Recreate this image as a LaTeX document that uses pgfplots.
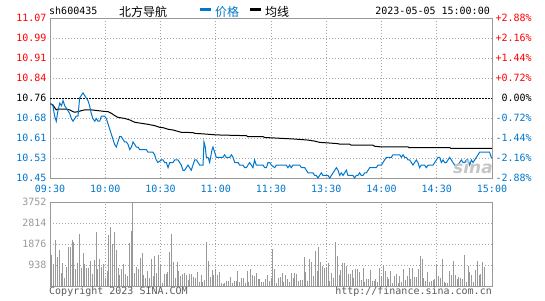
\documentclass[border=0pt]{standalone}
\usepackage{pgfplots}
\pgfplotsset{compat=1.18}
\usepackage{fontspec}
\setmainfont{DejaVu Sans Mono}
\setsansfont{DejaVu Sans}
\newfontfamily\cjk{Noto Sans CJK SC}
\definecolor{sblue}{RGB}{0,119,204}
\definecolor{sred}{RGB}{255,0,0}
\definecolor{sgray}{RGB}{153,153,153}
\definecolor{sgrid}{RGB}{165,165,165}
\definecolor{stext}{RGB}{90,90,90}
\pgfplotsset{
  chart/.style={scale only axis, width=442pt, anchor=south west,
    xmin=0, xmax=240, xtick={0,30,...,240},
    grid=major, major grid style={sgrid, line width=0.8pt, dash pattern=on 1pt off 2pt},
    axis line style={sgray, line width=1pt},
    tick style={draw=none},
    tick label style={font=\fontsize{10}{12}\selectfont}}
}
\begin{document}
\begin{tikzpicture}[font=\fontsize{10}{12}\selectfont]
% overall frame of the picture (545 x 300), origin at the price panel's lower left corner
\path (-50pt,-122pt) rectangle (495pt,178pt);

% ---------- price panel ----------
\begin{axis}[chart, at={(0pt,0pt)}, height=160pt,
  ymin=10.45, ymax=11.07,
  ytick={10.45,10.5275,10.605,10.6825,10.76,10.8375,10.915,10.9925,11.07},
  yticklabels={\textcolor{sblue}{10.45},\textcolor{sblue}{10.53},\textcolor{sblue}{10.61},\textcolor{sblue}{10.68},\textcolor{black}{10.76},\textcolor{sred}{10.84},\textcolor{sred}{10.91},\textcolor{sred}{10.99},\textcolor{sred}{11.07}},
  xticklabels={09:30,10:00,10:30,11:00,11:30,13:30,14:00,14:30,15:00},
  xticklabel style={text=sblue, yshift=-3.5pt}]
\addplot[black, line width=1pt, dash pattern=on 1.5pt off 1.5pt] coordinates {(0,10.76) (240,10.76)};
\addplot[black, line width=1pt] coordinates {
(0,10.739) (1.6,10.733) (2.5,10.723) (3.4,10.714) (4.3,10.717) (6.2,10.717) (8.9,10.717) (10.7,10.714) (12.5,10.707) (13.4,10.705) (15.2,10.707) (17.0,10.711) (18.8,10.714) (22.4,10.714) (26.1,10.711) (29.7,10.708) (31.5,10.707) (33.3,10.701) (35.1,10.692) (36.9,10.685) (40.5,10.681) (43.3,10.675) (46.0,10.666) (49.6,10.662) (53.2,10.658) (56.8,10.653) (59.7,10.646) (61.4,10.645) (64.1,10.639) (66.8,10.636) (71.3,10.627) (77.6,10.626) (78.6,10.623) (83.1,10.621) (90.3,10.617) (106.6,10.614) (107.5,10.610) (115.7,10.610) (116.6,10.607) (124.7,10.604) (132.8,10.601) (140.1,10.597) (143.7,10.593) (146.4,10.588) (150.9,10.586) (156.4,10.583) (157.3,10.581) (162.7,10.581) (163.6,10.577) (175.4,10.577) (176.3,10.573) (179.2,10.571) (194.4,10.571) (194.8,10.568) (217.0,10.568) (217.6,10.565) (240,10.565)};
\addplot[sblue, line width=1pt] coordinates {
(0,10.74) (1.6,10.73) (2.5,10.69) (3.4,10.67) (4.3,10.71) (5.3,10.74) (6.2,10.73) (7.1,10.75) (8.0,10.73) (8.9,10.72) (9.8,10.71) (10.7,10.70) (11.6,10.68) (12.5,10.67) (13.4,10.68) (14.3,10.69) (15.2,10.69) (16.1,10.76) (17.0,10.77) (17.9,10.78) (18.8,10.77) (19.7,10.76) (20.6,10.75) (21.5,10.73) (22.4,10.70) (23.3,10.68) (24.3,10.67) (25.2,10.68) (26.1,10.67) (27.0,10.67) (27.9,10.69) (28.8,10.69) (29.7,10.69) (30.6,10.68) (31.5,10.66) (32.4,10.64) (33.3,10.62) (34.2,10.60) (35.1,10.58) (36.0,10.57) (36.9,10.59) (37.8,10.61) (38.7,10.61) (39.6,10.60) (40.5,10.59) (41.4,10.59) (42.4,10.58) (43.3,10.56) (44.2,10.57) (45.1,10.59) (46.0,10.58) (46.9,10.57) (47.8,10.57) (48.7,10.56) (49.6,10.56) (50.5,10.56) (51.4,10.56) (52.3,10.56) (53.2,10.55) (54.1,10.55) (55.0,10.55) (55.9,10.55) (56.8,10.54) (57.7,10.52) (58.6,10.51)
(60.5,10.52) (61.4,10.52) (62.3,10.51) (63.2,10.51) (64.1,10.49) (65.0,10.51) (65.9,10.51) (66.8,10.51) (67.7,10.52) (68.6,10.52) (69.5,10.52) (70.4,10.51) (71.3,10.50) (72.2,10.48) (73.1,10.48) (74.0,10.49) (74.9,10.50) (75.8,10.49) (76.7,10.48) (77.6,10.50) (78.6,10.52) (79.5,10.52) (80.4,10.51) (81.3,10.50) (82.2,10.50) (83.1,10.50) (83.6,10.59) (84.3,10.57) (84.9,10.53) (85.8,10.53) (86.7,10.51) (87.2,10.53) (88.0,10.56) (88.5,10.57) (89.4,10.55) (90.3,10.53) (91.2,10.53) (92.1,10.53) (93.0,10.53) (93.9,10.53) (94.8,10.54) (95.7,10.53) (96.6,10.53) (97.6,10.53) (98.5,10.54) (99.4,10.53) (100.3,10.51) (101.2,10.51) (102.1,10.51) (103.0,10.50) (103.9,10.50) (104.8,10.50) (105.7,10.49) (106.6,10.49) (107.5,10.50) (108.4,10.51) (109.3,10.50) (110.2,10.49) (111.1,10.52) (112.0,10.50) (112.9,10.50) (113.8,10.50) (114.7,10.50) (115.7,10.50) (116.6,10.49) (117.5,10.49) (118.4,10.51) (119.3,10.51)
(120.2,10.50) (122.0,10.49) (122.9,10.50) (123.8,10.50) (125.6,10.50) (127.4,10.50) (128.3,10.50) (129.2,10.49) (130.1,10.50) (131.0,10.49) (131.9,10.50) (132.8,10.50) (134.7,10.50) (135.6,10.50) (136.5,10.49) (137.4,10.49) (138.3,10.49) (139.2,10.48) (140.1,10.47) (142.8,10.47) (143.7,10.46) (144.6,10.46) (145.5,10.45) (146.4,10.46) (147.3,10.47) (148.2,10.46) (149.1,10.46) (150.9,10.46) (151.9,10.45) (152.8,10.46) (153.7,10.47) (154.6,10.48) (155.5,10.49) (156.4,10.48) (157.3,10.46) (158.2,10.47) (159.1,10.46) (160.0,10.47) (160.9,10.48) (161.8,10.46) (164.5,10.46) (165.4,10.45) (166.3,10.46) (167.2,10.46) (168.1,10.47) (169.0,10.46) (169.9,10.46) (170.9,10.47) (171.8,10.47) (172.7,10.48) (173.6,10.49) (177.2,10.49) (178.1,10.50)
(179.9,10.50) (180.8,10.51) (181.7,10.52) (182.6,10.53) (185.3,10.53) (186.2,10.54) (189.9,10.54) (190.8,10.53) (191.7,10.54) (192.6,10.53) (193.5,10.53) (194.4,10.52) (195.3,10.52) (196.2,10.51) (197.1,10.50) (198.0,10.51) (198.9,10.52) (199.8,10.51) (200.7,10.49) (201.6,10.50) (203.4,10.50) (204.3,10.49) (205.3,10.50) (208.0,10.50) (208.9,10.51) (209.8,10.52) (210.7,10.53) (211.6,10.53) (212.5,10.51) (213.4,10.52) (214.3,10.51) (215.2,10.51) (216.1,10.52) (217.0,10.53) (217.9,10.52) (218.8,10.51) (219.7,10.50) (221.5,10.50) (222.4,10.51) (223.4,10.52) (224.3,10.51) (225.2,10.51) (226.1,10.52) (227.0,10.52) (227.9,10.50) (228.8,10.52) (229.7,10.51) (230.6,10.52) (231.5,10.53) (232.4,10.54) (233.3,10.55) (238.7,10.55) (239.6,10.53) (240,10.53)};
\end{axis}

% ---------- percent labels on the right ----------
\begin{axis}[scale only axis, width=442pt, height=160pt, at={(0pt,0pt)}, anchor=south west,
  xmin=0, xmax=240, ymin=-2.88, ymax=2.88,
  axis x line=none, axis y line*=right, axis line style={draw=none},
  tick style={draw=none},
  ytick={-2.88,-2.16,-1.44,-0.72,0,0.72,1.44,2.16,2.88},
  yticklabels={\textcolor{sblue}{-2.88\%},\textcolor{sblue}{-2.16\%},\textcolor{sblue}{-1.44\%},\textcolor{sblue}{-0.72\%},\textcolor{black}{\phantom{+}0.00\%},\textcolor{sred}{+0.72\%},\textcolor{sred}{+1.44\%},\textcolor{sred}{+2.16\%},\textcolor{sred}{+2.88\%}},
  yticklabel style={font=\fontsize{10}{12}\selectfont, anchor=west}]
\addplot[draw=none] coordinates {(0,0) (240,0)};
\end{axis}

% ---------- volume panel ----------
\begin{axis}[chart, at={(0pt,-108pt)}, height=84pt,
  ymin=0, ymax=3752, ytick={0,938,1876,2814,3752},
  yticklabels={,938,1876,2814,3752},
  yticklabel style={text=sgray},
  xticklabels={}]
\addplot[ycomb, sgray, line width=1pt] coordinates {
(0,1757) (1,1385) (2,983) (3,2055) (4,1310) (5,1608) (6,566) (7,1013) (8,372) (9,864) (10,1757) (11,1757) (12,2055) (13,1980) (14,759) (15,1013) (16,2323) (17,819) (18,1459) (19,968) (20,819) (21,819) (22,1117) (23,536) (24,1161) (25,2427) (26,759) (27,1206) (28,864) (29,968) (30,342) (31,670) (32,2278) (33,2636) (34,1861) (35,2427) (36,1608) (37,819) (38,491) (39,759) (40,968) (41,536) (42,447) (43,1906) (44,2457) (45,3752) (46,566) (47,864) (48,759) (49,1266) (50,1459) (51,491) (52,372) (53,670) (54,342) (55,1206) (56,447) (57,1355) (58,566) (59,1385) (60,938) (61,119) (62,536) (63,521) (64,610) (65,1534) (66,2323) (67,1087) (68,342) (69,1057) (70,670) (71,462) (72,521) (73,566) (74,491) (75,268) (76,521) (77,536) (78,417) (79,342) (80,610) (81,164) (82,491) (83,164) (84,268) (85,1951) (86,1117) (87,417) (88,715) (89,491) (90,759) (91,491) (92,610) (93,119) (94,74) (95,119) (96,223) (97,223) (98,387) (99,119) (100,223) (101,223) (102,670) (103,164) (104,372) (105,342) (106,119) (107,670) (108,194) (109,759) (110,491) (111,462) (112,566) (113,313) (114,313) (115,164) (116,164) (117,313) (118,491) (119,223) (120,342)
(121,1653) (122,759) (123,119) (124,372) (125,417) (126,566) (127,164) (128,491) (129,313) (130,164) (131,566) (132,342) (133,566) (134,521) (135,223) (136,268) (137,268) (138,1310) (139,610) (140,223) (141,1206) (142,1087) (143,447) (144,1563) (145,670) (146,1757) (147,1087) (148,908) (149,819) (150,819) (151,1042) (152,223) (153,566) (154,372) (155,1980) (156,1340) (157,491) (158,715) (159,1013) (160,1013) (161,908) (162,536) (163,536) (164,715) (165,372) (166,759) (167,759) (168,610) (169,268) (170,819) (171,164) (172,313) (173,313) (174,715) (175,223) (176,223) (177,313) (178,164) (179,819) (180,417) (181,908) (182,670) (183,387) (184,313) (185,670) (186,119) (187,447) (188,536) (189,119) (190,447) (191,164) (192,759) (193,268) (194,447) (195,819) (196,313) (197,819) (198,417) (199,417) (200,759) (201,1340) (202,1206) (203,372) (204,223) (205,610) (206,164) (207,223) (208,268) (209,313) (210,938) (211,462) (212,372) (213,1206) (214,164) (215,119) (216,119) (217,670) (218,491) (219,1117) (220,491) (221,298) (222,417) (223,372) (224,313) (225,1385) (226,164) (227,908) (228,610) (229,491) (230,164) (231,715) (232,1117) (233,491) (234,521) (235,1057) (236,864)};
\end{axis}

% ---------- watermark ----------
\node[text=gray!45, font=\sffamily\bfseries\itshape\fontsize{17}{17}\selectfont] at (423pt,11pt) {sina};

% ---------- header ----------
\node[anchor=west, inner sep=0pt] at (-1pt,167pt) {sh600435};
\node[anchor=west, inner sep=0pt, font=\cjk\fontsize{12}{12}\selectfont] at (69pt,166.5pt) {北方导航};
\fill[sblue] (150pt,166.5pt) rectangle (161pt,169.5pt);
\node[anchor=west, inner sep=0pt, text=sblue, font=\cjk\fontsize{12}{12}\selectfont] at (165pt,166.5pt) {价格};
\fill[black] (200pt,166.5pt) rectangle (211pt,169.5pt);
\node[anchor=west, inner sep=0pt, font=\cjk\fontsize{12}{12}\selectfont] at (215pt,166.5pt) {均线};
\node[anchor=east, inner sep=0pt] at (440pt,167pt) {2023-05-05 15:00:00};

% ---------- footer ----------
\node[anchor=west, inner sep=0pt, text=stext] at (-1pt,-114pt) {Copyright 2023 SINA.COM};
\node[anchor=east, inner sep=0pt, text=stext] at (442pt,-114pt) {http://finance.sina.com.cn};
\end{tikzpicture}
\end{document}
